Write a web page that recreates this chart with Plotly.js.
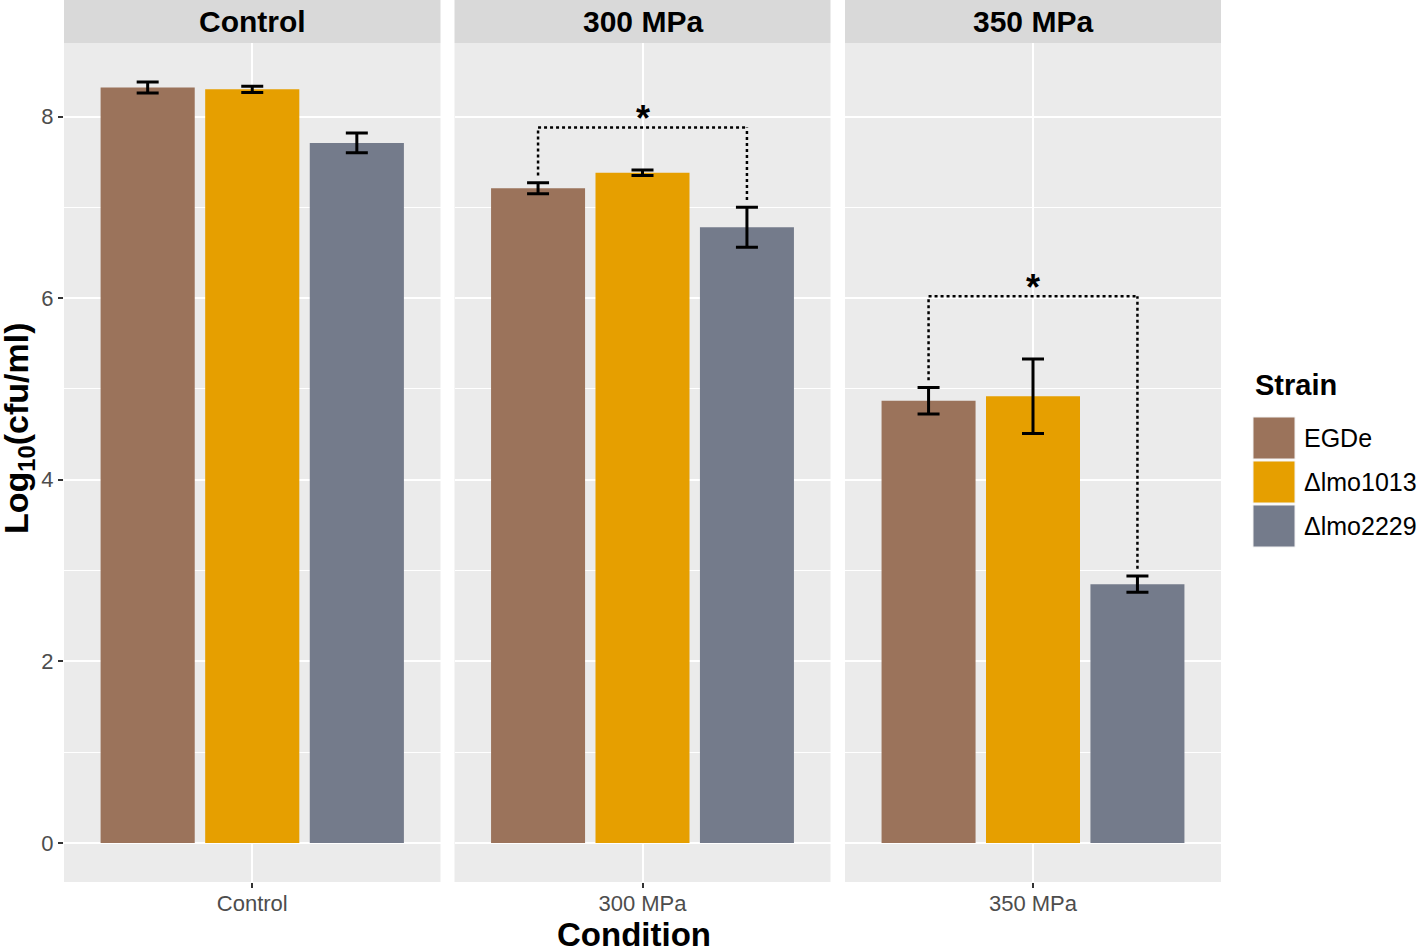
<!DOCTYPE html>
<html>
<head>
<meta charset="utf-8">
<script src="https://cdn.plot.ly/plotly-3.0.1.min.js"></script>
<style>
  html, body { margin: 0; padding: 0; background: #fff; }
  #chart { width: 1418px; height: 950px; }
</style>
</head>
<body>
<div id="chart"></div>
<script>
// data
var conditions = ['Control', '300 MPa', '350 MPa'];
var strains = ['EGDe', 'Δlmo1013', 'Δlmo2229'];
var strainColors = ['#9b735b', '#e69f00', '#747b8b'];

var egdeMean = [8.32, 7.21, 4.87];
var egdeErr = [0.06, 0.06, 0.145];
var lmo1013Mean = [8.30, 7.38, 4.92];
var lmo1013Err = [0.035, 0.03, 0.41];
var lmo2229Mean = [7.71, 6.78, 2.85];
var lmo2229Err = [0.11, 0.22, 0.09];

// significance brackets: panel, left strain, right strain, bracket height
var sigPanel = [1, 2];
var sigLeft = [0, 0];
var sigRight = [2, 2];
var sigHeight = [7.88, 6.02];
var sigLabel = ['*', '*'];

var means = [egdeMean, lmo1013Mean, lmo2229Mean];
var errs = [egdeErr, lmo1013Err, lmo2229Err];

// page geometry (px)
var W = 1418, H = 950;
var mL = 64, mR = 197, mT = 43, mB = 68;
var plotW = W - mL - mR, plotH = H - mT - mB;
var panelPx = [[64, 440.5], [454.5, 830.5], [845, 1221]];
function px2x(px) { return (px - mL) / plotW; }
function px2y(py) { return (H - mB - py) / plotH; }

// dodge: one slot per strain, bar fills 90% of slot
var slot = 1 / strains.length;
var barW = slot * 0.9;
function barCenter(i) { return -0.5 + slot * (i + 0.5); }

var font = 'Liberation Sans, Arial, Helvetica, sans-serif';
var traces = [];
for (var p = 0; p < conditions.length; p++) {
  var sfx = p === 0 ? '' : String(p + 1);
  for (var s = 0; s < strains.length; s++) {
    traces.push({
      type: 'bar',
      name: strains[s],
      x: [0],
      y: [means[s][p]],
      width: barW,
      offset: barCenter(s) - barW / 2,
      xaxis: 'x' + sfx,
      yaxis: 'y' + sfx,
      marker: { color: strainColors[s], line: { width: 0 } },
      error_y: { type: 'data', array: [errs[s][p]], visible: true,
                 color: '#000', thickness: 3, width: 11 },
      showlegend: false,
      hoverinfo: 'skip'
    });
  }
}

var layout = {
  width: W, height: H,
  margin: { l: mL, r: mR, t: mT, b: mB },
  paper_bgcolor: '#fff',
  plot_bgcolor: '#ebebeb',
  barmode: 'overlay',
  showlegend: false,
  font: { family: font, color: '#4d4d4d', size: 22 },
  shapes: [],
  annotations: []
};

for (var p = 0; p < conditions.length; p++) {
  var sfx = p === 0 ? '' : String(p + 1);
  var dom = [px2x(panelPx[p][0]), px2x(panelPx[p][1])];
  layout['xaxis' + sfx] = {
    domain: dom,
    anchor: 'y' + sfx,
    range: [-0.6, 0.6],
    tickvals: [0],
    ticktext: [conditions[p]],
    ticks: 'outside', ticklen: 5, tickwidth: 2, tickcolor: '#333',
    ticklabelstandoff: -3,
    showgrid: true, gridcolor: '#fff', gridwidth: 2,
    zeroline: false, showline: false,
    tickfont: { family: font, size: 22, color: '#4d4d4d' },
    fixedrange: true
  };
  layout['yaxis' + sfx] = {
    domain: [0, 1],
    anchor: 'x' + sfx,
    range: [-0.43, 8.81],
    tickvals: [0, 2, 4, 6, 8],
    ticks: p === 0 ? 'outside' : '', ticklen: 5, tickwidth: 2, tickcolor: '#333',
    showticklabels: p === 0,
    showgrid: true, gridcolor: '#fff', gridwidth: 2,
    minor: { tickvals: [1, 3, 5, 7], showgrid: true, gridcolor: '#fff', gridwidth: 1, ticks: '' },
    zeroline: false, showline: false,
    tickfont: { family: font, size: 22, color: '#4d4d4d' },
    fixedrange: true
  };
  if (p > 0) layout['yaxis' + sfx].matches = 'y';

  // facet strip
  layout.shapes.push({
    type: 'rect', xref: 'paper', yref: 'paper',
    x0: dom[0], x1: dom[1], y0: 1, y1: px2y(0),
    fillcolor: '#d9d9d9', line: { width: 0 }, layer: 'below'
  });
  layout.annotations.push({
    xref: 'paper', yref: 'paper', x: (dom[0] + dom[1]) / 2, y: px2y(21),
    text: '<b>' + conditions[p] + '</b>', showarrow: false,
    font: { family: font, size: 30, color: '#000' }, xanchor: 'center', yanchor: 'middle'
  });
}

// significance brackets
for (var k = 0; k < sigPanel.length; k++) {
  var p = sigPanel[k];
  var sfx = p === 0 ? '' : String(p + 1);
  var xl = barCenter(sigLeft[k]), xr = barCenter(sigRight[k]);
  var yl = means[sigLeft[k]][p] + errs[sigLeft[k]][p] + 0.08;
  var yr = means[sigRight[k]][p] + errs[sigRight[k]][p] + 0.08;
  var dot = { color: '#000', width: 2.5, dash: 'dot' };
  layout.shapes.push({ type: 'line', xref: 'x' + sfx, yref: 'y' + sfx,
    x0: xl, x1: xl, y0: yl, y1: sigHeight[k], line: dot });
  layout.shapes.push({ type: 'line', xref: 'x' + sfx, yref: 'y' + sfx,
    x0: xl, x1: xr, y0: sigHeight[k], y1: sigHeight[k], line: dot });
  layout.shapes.push({ type: 'line', xref: 'x' + sfx, yref: 'y' + sfx,
    x0: xr, x1: xr, y0: yr, y1: sigHeight[k], line: dot });
  layout.annotations.push({
    xref: 'x' + sfx, yref: 'y' + sfx, x: (xl + xr) / 2, y: sigHeight[k],
    text: '<b>' + sigLabel[k] + '</b>', showarrow: false,
    xanchor: 'center', yanchor: 'bottom', yshift: -14,
    font: { family: font, size: 36, color: '#000' }
  });
}

// axis titles
layout.annotations.push({
  xref: 'paper', yref: 'paper', x: px2x(634), y: px2y(934),
  text: '<b>Condition</b>', showarrow: false, xanchor: 'center', yanchor: 'middle',
  font: { family: font, size: 33, color: '#000' }
});
layout.annotations.push({
  xref: 'paper', yref: 'paper', x: px2x(18), y: px2y(428),
  text: '<b>Log<sub>10</sub>(cfu/ml)</b>', showarrow: false, textangle: -90,
  xanchor: 'center', yanchor: 'middle',
  font: { family: font, size: 34, color: '#000' }
});

// legend drawn by hand to get ggplot sized keys
layout.annotations.push({
  xref: 'paper', yref: 'paper', x: px2x(1253), y: px2y(385),
  text: '<b>Strain</b>', showarrow: false, xanchor: 'left', yanchor: 'middle',
  font: { family: font, size: 29, color: '#000' }
});
for (var s = 0; s < strains.length; s++) {
  var keyTop = 417 + s * 44;
  layout.shapes.push({
    type: 'rect', xref: 'paper', yref: 'paper',
    x0: px2x(1253), x1: px2x(1295), y0: px2y(keyTop + 42), y1: px2y(keyTop),
    fillcolor: strainColors[s], line: { color: '#f2f2f2', width: 1 }
  });
  layout.annotations.push({
    xref: 'paper', yref: 'paper', x: px2x(1302), y: px2y(keyTop + 21),
    text: strains[s], showarrow: false, xanchor: 'left', yanchor: 'middle',
    font: { family: font, size: 25, color: '#000' }
  });
}

Plotly.newPlot('chart', traces, layout, { staticPlot: true });
</script>
</body>
</html>
